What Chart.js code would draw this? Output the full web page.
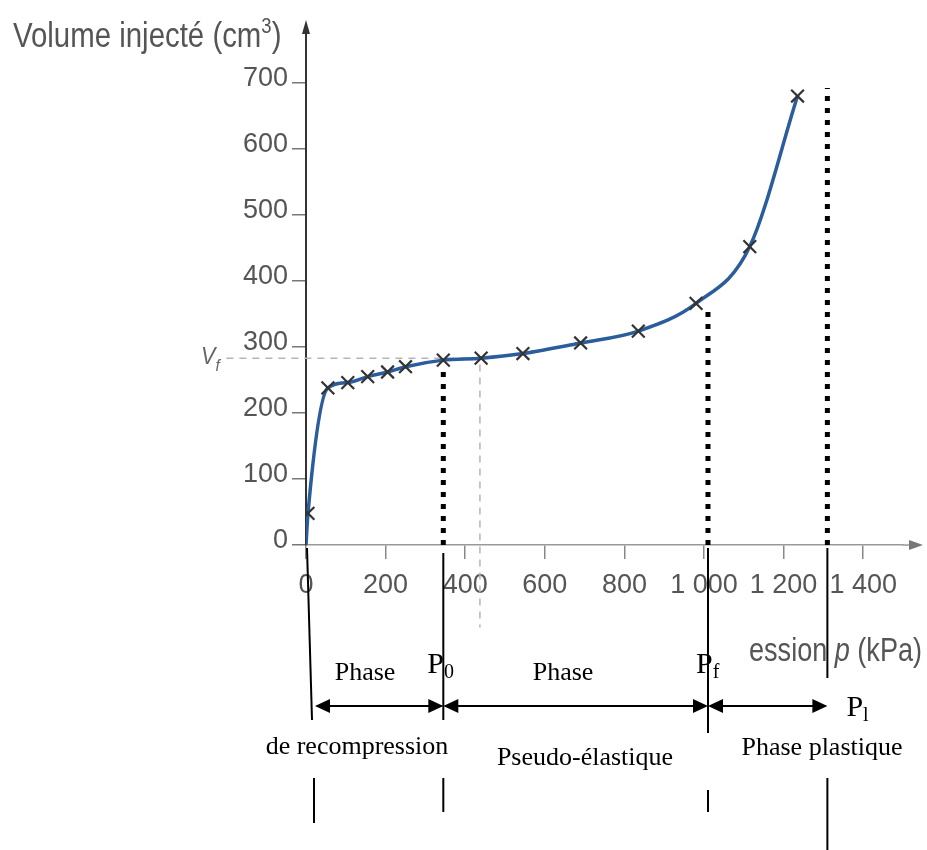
<!DOCTYPE html>
<html lang="fr">
<head>
<meta charset="UTF-8">
<title>Courbe pressiométrique</title>
<script src="https://cdn.jsdelivr.net/npm/chart.js"></script>
<style>
  body { margin: 0; background: #fff; }
  .wrap { width: 927px; height: 850px; position: relative; }
</style>
</head>
<body>
<div class="wrap"><canvas id="pressio"></canvas></div>
<script>
const pression = [0, 5, 55, 105, 155, 205, 250, 345, 440, 545, 690, 835, 980, 1115, 1235];
const volume = [0, 48, 238, 246, 255, 262, 270, 280, 283, 290, 306, 324, 366, 452, 680];

// graduations des axes
const xTicks = [0, 200, 400, 600, 800, 1000, 1200, 1400];
const yTicks = [0, 100, 200, 300, 400, 500, 600, 700];

// pressions caractéristiques et hauteur des pointillés
const pressionsCles = [345, 1010, 1310];      // P0, Pf, Pl
const hautPointilles = [262, 358, 692];
const nomsCles = ['0', 'f', 'l'];

// repère Vf / pf (tirets gris)
const Vf = 283;
const pf = 437;

const sans = '"Liberation Sans", Arial, sans-serif';
const serif = '"Liberation Serif", "DejaVu Serif", serif';
const gris = '#555';

function fmt(v) {
  if (v >= 1000) return Math.floor(v / 1000) + ' ' + String(v % 1000).padStart(3, '0');
  return String(v);
}

const points = pression.map((p, i) => ({ x: p, y: volume[i] }));

const pointilles = pressionsCles.map((p, i) => ({
  data: [{ x: p, y: 0 }, { x: p, y: hautPointilles[i] }],
  borderColor: '#000',
  borderWidth: 5,
  borderDash: [5, 7],
  borderCapStyle: 'butt',
  pointRadius: 0
}));

function fleche(ctx, x, y, dir) {
  ctx.beginPath();
  ctx.moveTo(x, y);
  ctx.lineTo(x - dir * 15, y - 7);
  ctx.lineTo(x - dir * 15, y + 7);
  ctx.closePath();
  ctx.fill();
}

function indice(ctx, base, sub, x, y, size, font) {
  ctx.font = size + 'px ' + font;
  ctx.textAlign = 'left';
  ctx.textBaseline = 'middle';
  ctx.fillText(base, x, y);
  const w = ctx.measureText(base).width;
  ctx.font = Math.round(size * 0.65) + 'px ' + font;
  ctx.fillText(sub, x + w, y + size * 0.25);
}

// texte gris étroit (police de la figure scannée)
function etroit(ctx, parts, x, y, align, k) {
  ctx.save();
  ctx.translate(x, y);
  ctx.scale(k, 1);
  ctx.textBaseline = 'middle';
  ctx.textAlign = 'left';
  let total = 0;
  parts.forEach(p => { ctx.font = p.font; total += ctx.measureText(p.t).width; });
  let cx = align === 'right' ? -total : 0;
  parts.forEach(p => {
    ctx.font = p.font;
    ctx.fillText(p.t, cx, p.dy || 0);
    cx += ctx.measureText(p.t).width;
  });
  ctx.restore();
}

const annotations = {
  id: 'annotations',
  afterDraw(chart) {
    const ctx = chart.ctx;
    const xs = chart.scales.x, ys = chart.scales.y;
    const area = chart.chartArea;
    const xAxe = xs.getPixelForValue(0);
    const yAxe = ys.getPixelForValue(0);
    const [xP0, xPf, xPl] = pressionsCles.map(v => xs.getPixelForValue(v));
    ctx.save();

    // prolongement des axes et flèches
    ctx.strokeStyle = '#333';
    ctx.fillStyle = '#333';
    ctx.lineWidth = 2;
    ctx.beginPath();
    ctx.moveTo(xAxe, area.top);
    ctx.lineTo(xAxe, 30);
    ctx.stroke();
    ctx.beginPath();
    ctx.moveTo(xAxe, 20);
    ctx.lineTo(xAxe - 4, 34);
    ctx.lineTo(xAxe + 4, 34);
    ctx.closePath();
    ctx.fill();

    ctx.strokeStyle = '#999';
    ctx.fillStyle = '#777';
    ctx.lineWidth = 1.5;
    ctx.beginPath();
    ctx.moveTo(area.right, yAxe);
    ctx.lineTo(912, yAxe);
    ctx.stroke();
    ctx.beginPath();
    ctx.moveTo(923, yAxe);
    ctx.lineTo(909, yAxe - 5);
    ctx.lineTo(909, yAxe + 5);
    ctx.closePath();
    ctx.fill();

    // titres des axes
    ctx.fillStyle = gris;
    etroit(ctx, [
      { t: 'Volume injecté (cm', font: '35px ' + sans },
      { t: '3', font: '22px ' + sans, dy: -10 },
      { t: ')', font: '35px ' + sans }
    ], 13, 37, 'left', 0.84);

    etroit(ctx, [
      { t: 'Pression ', font: '33px ' + sans },
      { t: 'p', font: 'italic 33px ' + sans },
      { t: ' (kPa)', font: '33px ' + sans }
    ], 922, 652, 'right', 0.82);

    // Vf
    ctx.fillStyle = '#666';
    etroit(ctx, [
      { t: 'V', font: 'italic 24px ' + sans },
      { t: 'f', font: 'italic 17px ' + sans, dy: 9 }
    ], 201, 357, 'left', 0.9);

    // cadres blancs des étiquettes
    ctx.fillStyle = '#fff';
    ctx.fillRect(xP0 - 20, 635, 60, 57);
    ctx.fillRect(xPf - 31, 635, 73, 57);

    // traits verticaux
    ctx.strokeStyle = '#000';
    ctx.lineWidth = 2;
    const seg = (x1, y1, x2, y2) => { ctx.beginPath(); ctx.moveTo(x1, y1); ctx.lineTo(x2, y2); ctx.stroke(); };
    seg(xAxe + 1, yAxe + 3, xAxe + 6, 720);
    seg(xAxe + 8, 778, xAxe + 8, 823);
    seg(xP0, yAxe + 8, xP0, 720);
    seg(xP0, 778, xP0, 812);
    seg(xPf, yAxe + 3, xPf, 733);
    seg(xPf, 790, xPf, 812);
    seg(xPl, yAxe + 3, xPl, 678);
    seg(xPl, 778, xPl, 850);

    // flèches des phases
    const yF = 706;
    ctx.fillStyle = '#000';
    ctx.lineWidth = 2;
    [[xAxe + 9, xP0], [xP0, xPf], [xPf, xPl]].forEach(([a, b]) => {
      seg(a + 2, yF, b - 2, yF);
      fleche(ctx, a, yF, -1);
      fleche(ctx, b, yF, 1);
    });

    // textes des phases
    ctx.fillStyle = '#000';
    ctx.textAlign = 'center';
    ctx.textBaseline = 'middle';
    ctx.font = '26px ' + serif;
    ctx.fillText('Phase', 365, 673);
    ctx.fillText('Phase', 563, 673);
    ctx.fillText('de recompression', 357, 747);
    ctx.fillText('Pseudo-élastique', 585, 758);
    ctx.fillText('Phase plastique', 822, 748);

    indice(ctx, 'P', nomsCles[0], xP0 - 16, 665, 30, serif);
    indice(ctx, 'P', nomsCles[1], xPf - 12, 665, 30, serif);
    indice(ctx, 'P', nomsCles[2], xPl + 19, 708, 30, serif);

    ctx.restore();
  }
};

new Chart(document.getElementById('pressio'), {
  type: 'line',
  data: {
    datasets: [
      {
        data: points,
        borderColor: '#2b5c9c',
        borderWidth: 3.5,
        cubicInterpolationMode: 'monotone',
        pointStyle: 'crossRot',
        pointRadius: pression.map((p, i) => i === 0 ? 0 : 9),
        pointBorderColor: '#333',
        pointBorderWidth: 2.2
      },
      ...pointilles,
      {
        data: [{ x: -200, y: Vf }, { x: pf, y: Vf }, { x: pf, y: -125 }],
        borderColor: '#b5b5b5',
        borderWidth: 1.5,
        borderDash: [7, 6],
        pointRadius: 0,
        clip: false
      }
    ]
  },
  options: {
    responsive: true,
    maintainAspectRatio: false,
    animation: false,
    layout: { padding: { top: 30, right: 24, left: 0, bottom: 0 } },
    plugins: { legend: { display: false }, tooltip: { enabled: false } },
    scales: {
      x: {
        type: 'linear',
        min: 0,
        max: 1500,
        afterFit: s => { s.height = 305; },
        afterBuildTicks: s => { s.ticks = xTicks.map(v => ({ value: v })); },
        grid: { drawOnChartArea: false, drawTicks: true, tickLength: 14, color: '#888', lineWidth: 1.5 },
        border: { display: true, color: '#999', width: 1.5 },
        ticks: {
          color: gris,
          padding: 10,
          maxRotation: 0,
          font: { family: sans, size: 27 },
          callback: v => fmt(v)
        }
      },
      y: {
        type: 'linear',
        min: 0,
        max: 780,
        afterFit: s => { s.width = 306; },
        afterBuildTicks: s => { s.ticks = yTicks.map(v => ({ value: v })); },
        grid: { drawOnChartArea: false, drawTicks: true, tickLength: 14, color: '#777', lineWidth: 1.5 },
        border: { display: true, color: '#333', width: 2 },
        ticks: {
          color: gris,
          padding: 4,
          labelOffset: -4,
          font: { family: sans, size: 27 }
        }
      }
    }
  },
  plugins: [annotations]
});
</script>
</body>
</html>
